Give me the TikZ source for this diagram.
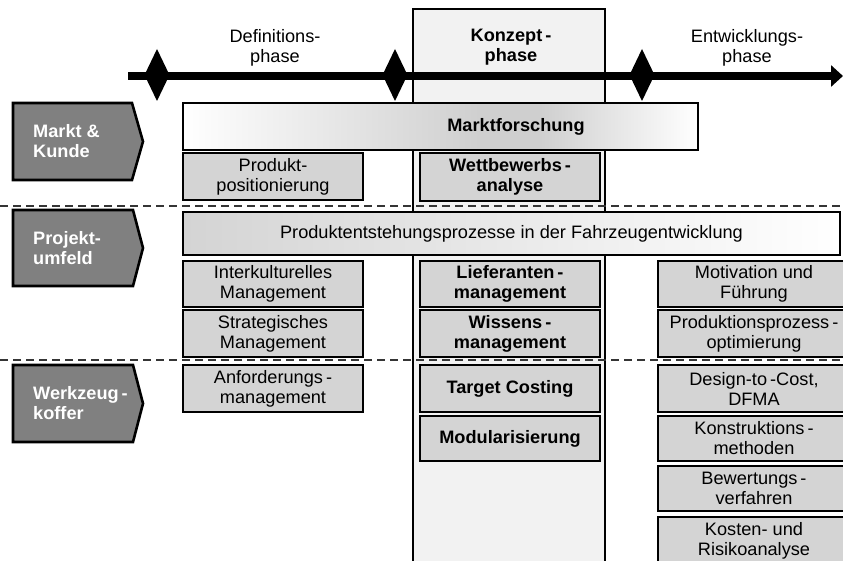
\documentclass[tikz,border=0pt]{standalone}
\usepackage{fontspec}
\setmainfont[FakeStretch=1.01]{Liberation Sans}
\usetikzlibrary{arrows.meta}
\definecolor{boxgray}{HTML}{D4D4D4}
\definecolor{colgray}{HTML}{F2F2F2}
\definecolor{chevgray}{HTML}{808080}
\definecolor{sepgray}{HTML}{353535}
\definecolor{bargray}{HTML}{CFCFCF}
\newcommand\fsz{\fontsize{18pt}{20pt}\selectfont}
\begin{document}
\begin{tikzpicture}[x=1pt,y=-1pt,
 box/.style={draw=black, line width=2.6pt, fill=boxgray, inner sep=0pt, align=center, font=\fsz},
 bbox/.style={box, font=\fsz\bfseries},
 bar/.style={draw=black, line width=2.6pt, inner sep=0pt},
 chev/.style={draw=black, line width=2.6pt, fill=chevgray, line join=miter},
 chevtext/.style={anchor=west, align=left, text=white, font=\fsz\bfseries, inner sep=0pt},
 phase/.style={align=center, font=\fsz, inner sep=0pt},
 sepline/.style={draw=sepgray, line width=2.8pt, dash pattern=on 8pt off 5pt},
 diam/.style={fill=black},
]
\useasboundingbox (0,0) rectangle (843,561);
% concept column
\draw[line width=2pt, fill=colgray] (413,9) rectangle (605,580);
% dashed separators
\coordinate (s1a) at (0,206); \coordinate (s1b) at (843,206);
\coordinate (s2a) at (0,360); \coordinate (s2b) at (843,360);
\draw[sepline] (s1a) -- (s1b);
\draw[sepline] (s2a) -- (s2b);
% time arrow
\coordinate (ta) at (128,76);
\coordinate (tb) at (843,76);
\draw[line width=7.5pt, -{Triangle[length=12pt,width=21pt]}] (ta) -- (tb);
\fill[diam] (157,49) -- (169.5,75) -- (157,101) -- (144.5,75) -- cycle;
\fill[diam] (395,49) -- (407.5,75) -- (395,101) -- (382.5,75) -- cycle;
\fill[diam] (642,49) -- (654.5,75) -- (642,101) -- (629.5,75) -- cycle;
% phase labels
\node[phase] (p1) at (275,47.5) {Definitions-\\phase};
\node[phase, font=\fsz\bfseries] (p2) at (511,47.5) {Konzept\,-\\phase};
\node[phase] (p3) at (747,47.5) {Entwicklungs-\\phase};
% chevrons
\draw[chev] (13,103) -- (132,103) -- (143,141.5) -- (132,180) -- (13,180) -- cycle;
\draw[chev] (13,210) -- (133,210) -- (143,248) -- (133,286) -- (13,286) -- cycle;
\draw[chev] (13,365) -- (133,365) -- (143,403.5) -- (133,442) -- (13,442) -- cycle;
\node[chevtext] (c1) at (33,141) {Markt \&\\Kunde};
\node[chevtext] (c2) at (33,248.5) {Projekt-\\umfeld};
\node[chevtext] (c3) at (33,403) {Werkzeug\,-\\koffer};
% bars
\shade[left color=white, right color=bargray] (183,103) rectangle (480,150);
\fill[bargray] (479,103) rectangle (541,150);
\shade[left color=bargray, right color=white] (540,103) rectangle (698,150);
\node[bar, minimum width=515pt, minimum height=47pt] (mfbar) at (440.5,126.5) {};
\node[font=\fsz\bfseries, inner sep=0pt] (mft) at (516,126.5) {Marktforschung};
\node[bar, left color=boxgray, right color=white, minimum width=657pt, minimum height=43pt, font=\fsz] (pebar) at (511.5,233.5) {Produktentstehungsprozesse in der Fahrzeugentwicklung};
% left column
\node[box, minimum width=180pt, minimum height=47pt] (pp) at (273,176.5) {Produkt-\\positionierung};
\node[box, minimum width=180pt, minimum height=46pt] (ik) at (273,284) {Interkulturelles\\Management};
\node[box, minimum width=180pt, minimum height=47pt] (sm) at (273,333.5) {Strategisches\\Management};
\node[box, minimum width=180pt, minimum height=47pt] (am) at (273,388.5) {Anforderungs\,-\\management};
% concept column
\node[bbox, minimum width=180pt, minimum height=48pt] (wa) at (510,177) {Wettbewerbs\,-\\analyse};
\node[bbox, minimum width=180pt, minimum height=46pt] (lm) at (510,284) {Lieferanten\,-\\management};
\node[bbox, minimum width=180pt, minimum height=47pt] (wm) at (510,333.5) {Wissens\,-\\management};
\node[bbox, minimum width=180pt, minimum height=47pt] (tc) at (510,388.5) {Target Costing};
\node[bbox, minimum width=180pt, minimum height=45pt] (mo) at (510,438.5) {Modularisierung};
% right column
\node[box, minimum width=192pt, minimum height=46pt] (mf) at (754,284) {Motivation und\\Führung};
\node[box, minimum width=192pt, minimum height=47pt] (po) at (754,333.5) {Produktionsprozess\,-\\optimierung};
\node[box, minimum width=192pt, minimum height=47pt] (dc) at (754,388.5) {Design-to\,-Cost,\\DFMA};
\node[box, minimum width=192pt, minimum height=45pt] (km) at (754,438.5) {Konstruktions\,-\\methoden};
\node[box, minimum width=192pt, minimum height=45pt] (bv) at (754,488.5) {Bewertungs\,-\\verfahren};
\node[box, minimum width=192pt, minimum height=48pt] (kr) at (754,541) {Kosten- und\\Risikoanalyse};
\end{tikzpicture}
\end{document}
